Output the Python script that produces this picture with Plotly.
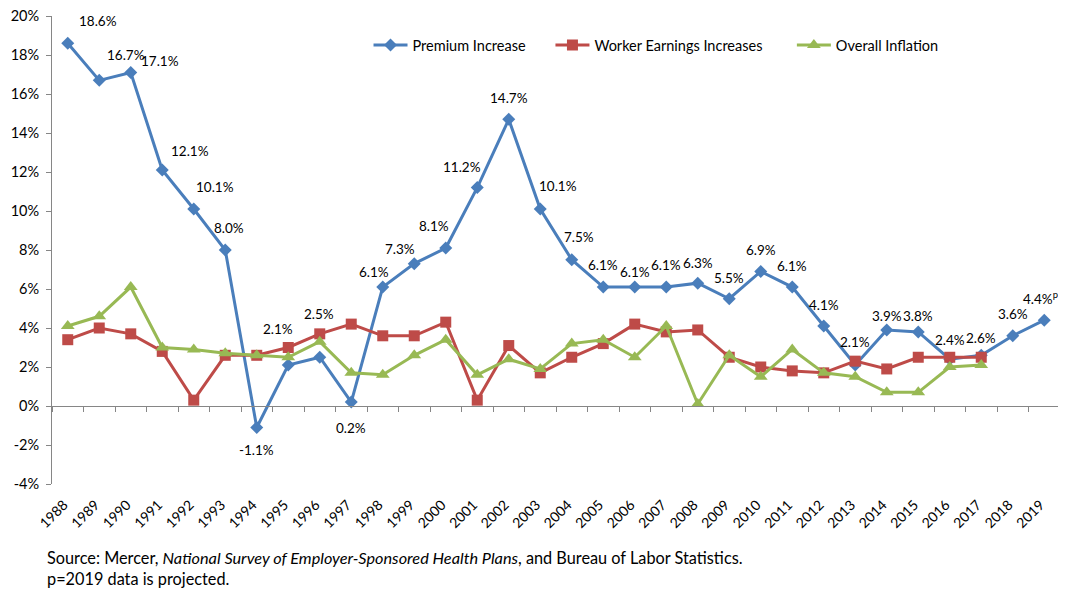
import plotly.graph_objects as go

years = [str(y) for y in range(1988, 2020)]
premium = [18.6, 16.7, 17.1, 12.1, 10.1, 8.0, -1.1, 2.1, 2.5, 0.2, 6.1, 7.3, 8.1, 11.2, 14.7, 10.1,
           7.5, 6.1, 6.1, 6.1, 6.3, 5.5, 6.9, 6.1, 4.1, 2.1, 3.9, 3.8, 2.4, 2.6, 3.6, 4.4]
earnings = [3.4, 4.0, 3.7, 2.8, 0.3, 2.6, 2.6, 3.0, 3.7, 4.2, 3.6, 3.6, 4.3, 0.3, 3.1, 1.7,
            2.5, 3.2, 4.2, 3.8, 3.9, 2.5, 2.0, 1.8, 1.7, 2.3, 1.9, 2.5, 2.5, 2.5]
inflation = [4.1, 4.6, 6.1, 3.0, 2.9, 2.7, 2.6, 2.5, 3.3, 1.7, 1.6, 2.6, 3.4, 1.6, 2.4, 1.9,
             3.2, 3.4, 2.5, 4.1, 0.1, 2.6, 1.5, 2.9, 1.7, 1.5, 0.7, 0.7, 2.0, 2.1]
y_ticks = [-4, -2, 0, 2, 4, 6, 8, 10, 12, 14, 16, 18, 20]

# label offsets (styling, pixels): (dx, dy up)
label_offsets = [(30, 22), (27, 25), (29, 12), (28, 19), (21, 22), (4, 22), (0, -23), (-10, 36),
                 (-1, 43), (0, -26), (-9, 15), (-14, 15), (-12, 22), (-15, 21), (0, 21), (18, 23),
                 (7, 23), (0, 22), (0, 15), (0, 22), (0, 20), (0, 21), (0, 21), (0, 21),
                 (0, 21), (0, 23), (0, 14), (0, 16), (0, 19), (0, 17), (0, 22), (-4, 22)]

BLUE = "#4A7EBB"
RED = "#BE4B48"
GREEN = "#98B954"
FONT = "Lato"

fig = go.Figure()
fig.add_trace(go.Scatter(x=years, y=premium, name="Premium Increase", mode="lines+markers",
                         line=dict(color=BLUE, width=3), legend="legend",
                         marker=dict(symbol="diamond", size=10, color=BLUE)))
fig.add_trace(go.Scatter(x=years[:len(earnings)], y=earnings, name="Worker Earnings Increases",
                         mode="lines+markers", line=dict(color=RED, width=3), legend="legend2",
                         marker=dict(symbol="square", size=11, color=RED)))
fig.add_trace(go.Scatter(x=years[:len(inflation)], y=inflation, name="Overall Inflation",
                         mode="lines+markers", line=dict(color=GREEN, width=3), legend="legend3",
                         marker=dict(symbol="triangle-up", size=12, color=GREEN)))
# helper trace for the zero-crossing axis
fig.add_trace(go.Scatter(x=years, y=[None] * len(years), xaxis="x2", showlegend=False,
                         hoverinfo="skip"))

annotations = []
for i, (yr, v) in enumerate(zip(years, premium)):
    dx, dy = label_offsets[i]
    txt = f"{v:.1f}%"
    if yr == "2019":
        txt += "<sup>p</sup>"
    annotations.append(dict(x=i, y=v, xref="x", yref="y", text=txt, showarrow=False,
                            xshift=dx, yshift=dy, font=dict(family=FONT, size=13.5, color="#000000")))

annotations.append(dict(x=-0.007, y=-0.156, xref="paper", yref="paper", xanchor="left", yanchor="middle",
                        showarrow=False, align="left",
                        text="Source: Mercer, <i>National Survey of Employer-Sponsored Health Plans</i>, and Bureau of Labor Statistics.",
                        font=dict(family=FONT, size=16.3, color="#000000")))
annotations.append(dict(x=-0.007, y=-0.201, xref="paper", yref="paper", xanchor="left", yanchor="middle",
                        showarrow=False, align="left", text="p=2019 data is projected.",
                        font=dict(family=FONT, size=16.3, color="#000000")))

legend_common = dict(orientation="h", y=0.938, xanchor="left", yanchor="middle",
                     font=dict(family=FONT, size=14.5), bgcolor="rgba(0,0,0,0)", itemwidth=34)

axis_gray = "#868686"
fig.update_layout(
    width=1058, height=585,
    margin=dict(l=44, r=6, t=8, b=109, autoexpand=False),
    paper_bgcolor="white", plot_bgcolor="white",
    font=dict(family=FONT, size=13, color="#000000"),
    showlegend=True,
    legend=dict(x=0.314, **legend_common),
    legend2=dict(x=0.4945, **legend_common),
    legend3=dict(x=0.734, **legend_common),
    xaxis=dict(type="category", categoryarray=years, range=[-0.5, len(years) - 0.5],
               showline=False, ticks="", tickangle=-45, showgrid=False, zeroline=False,
               automargin=False, ticklabelstandoff=9, ticklabelshift=-4,
               tickfont=dict(family=FONT, size=14)),
    xaxis2=dict(type="category", categoryarray=years, range=[-0.5, len(years) - 0.5],
                overlaying="x", anchor="free", position=4 / 24, showline=True, linecolor=axis_gray,
                linewidth=1, ticks="outside", ticklen=5, tickcolor=axis_gray, tickson="boundaries",
                showticklabels=False, showgrid=False, zeroline=False, automargin=False),
    yaxis=dict(range=[-4, 20], tickvals=y_ticks, ticktext=[f"{t}%" for t in y_ticks],
               showline=True, linecolor=axis_gray, linewidth=1, ticks="outside", ticklen=5,
               tickcolor=axis_gray, showgrid=False, zeroline=False, ticklabeloverflow="allow",
               automargin=False, ticklabelstandoff=4, tickfont=dict(family=FONT, size=14.5)),
    annotations=annotations,
)

fig.write_html("out.html")
